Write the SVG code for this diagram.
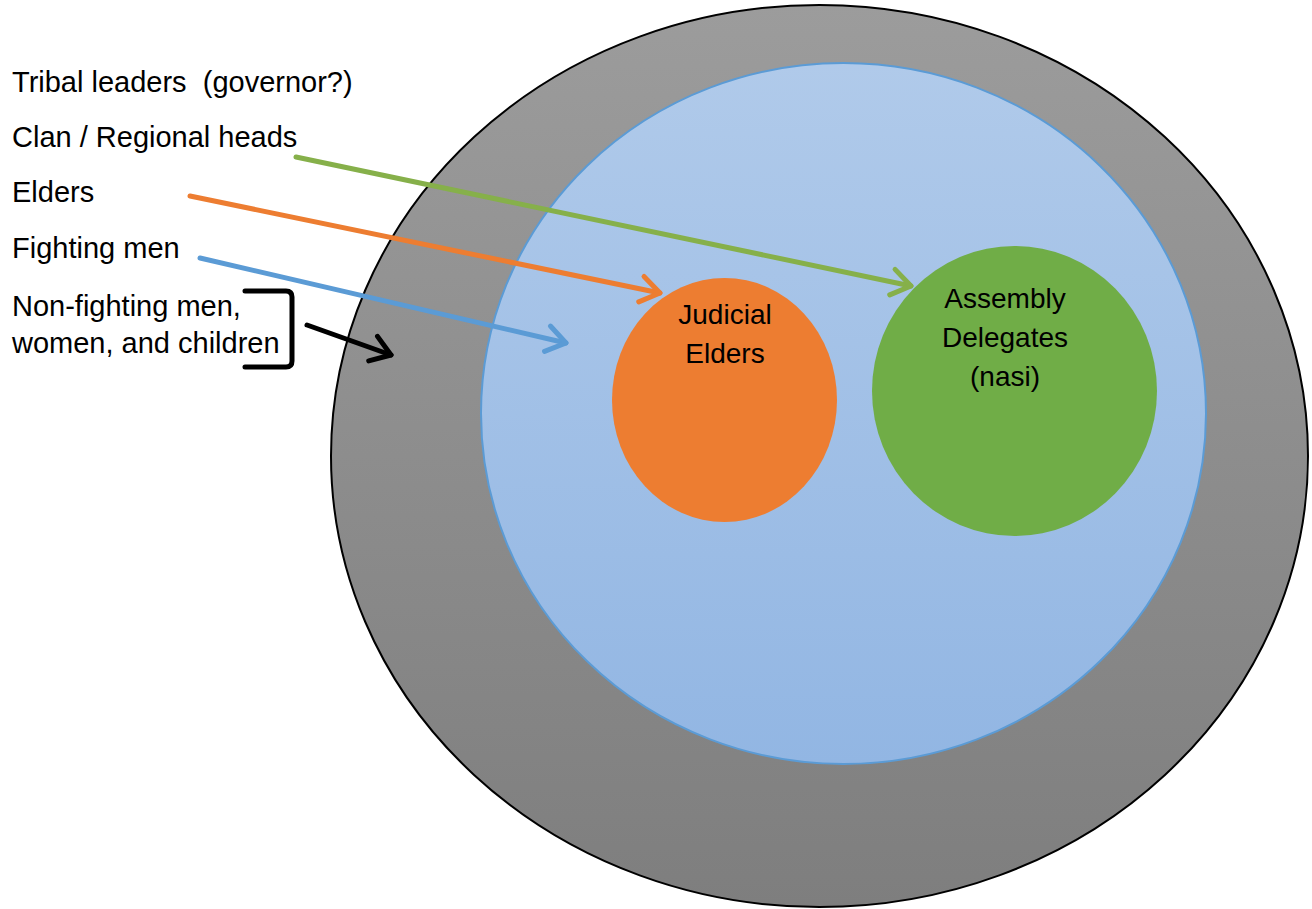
<svg xmlns="http://www.w3.org/2000/svg" width="1312" height="909" viewBox="0 0 1312 909">
<style>
.t{font-family:"Liberation Sans",Arial,sans-serif;font-size:29px;fill:#000}
.n{font-size:28px}
.c{text-anchor:middle}
.ln{fill:none;stroke-width:5;stroke-linecap:round}
</style>
<defs>
<linearGradient id="gOut" x1="0" y1="0" x2="0" y2="1"><stop offset="0" stop-color="#9c9c9c"/><stop offset="1" stop-color="#7e7e7e"/></linearGradient>
<linearGradient id="gIn" x1="0" y1="0" x2="0" y2="1"><stop offset="0" stop-color="#b0caea"/><stop offset="1" stop-color="#92b6e3"/></linearGradient>
<marker id="aG" markerUnits="userSpaceOnUse" orient="auto" markerWidth="40" markerHeight="40" refX="22" refY="20" viewBox="0 0 40 40"><path d="M3,7 L22,20 L3,33" fill="none" stroke="#86b04a" stroke-width="5" stroke-linecap="round" stroke-linejoin="round"/></marker>
<marker id="aO" markerUnits="userSpaceOnUse" orient="auto" markerWidth="40" markerHeight="40" refX="22" refY="20" viewBox="0 0 40 40"><path d="M3,7 L22,20 L3,33" fill="none" stroke="#ed7d31" stroke-width="5" stroke-linecap="round" stroke-linejoin="round"/></marker>
<marker id="aB" markerUnits="userSpaceOnUse" orient="auto" markerWidth="40" markerHeight="40" refX="22" refY="20" viewBox="0 0 40 40"><path d="M3,7 L22,20 L3,33" fill="none" stroke="#5b9bd5" stroke-width="5" stroke-linecap="round" stroke-linejoin="round"/></marker>
<marker id="aK" markerUnits="userSpaceOnUse" orient="auto" markerWidth="40" markerHeight="40" refX="22" refY="20" viewBox="0 0 40 40"><path d="M3,7 L22,20 L3,33" fill="none" stroke="#000" stroke-width="5" stroke-linecap="round" stroke-linejoin="round"/></marker>
</defs>
<rect width="1312" height="909" fill="#fff"/>
<g id="outer"><ellipse cx="819.5" cy="456" rx="488.5" ry="451" fill="url(#gOut)" stroke="#000" stroke-width="2"/></g>
<g id="inner"><ellipse cx="843.5" cy="413.5" rx="362.5" ry="350.5" fill="url(#gIn)" stroke="#5b9bd5" stroke-width="2"/></g>
<g id="judicial"><ellipse cx="724.5" cy="400" rx="112.5" ry="122" fill="#ed7d31"/>
<text class="t n c" x="725" y="324">Judicial</text><text class="t n c" x="725" y="363">Elders</text></g>
<g id="assembly"><ellipse cx="1014.5" cy="391" rx="142.5" ry="145" fill="#70ad47"/>
<text class="t n c" x="1005" y="308">Assembly</text><text class="t n c" x="1005" y="347">Delegates</text><text class="t n c" x="1005" y="386">(nasi)</text></g>
<g id="labels">
<text class="t" x="12" y="92" xml:space="preserve">Tribal leaders  (governor?)</text>
<text class="t" x="12" y="147">Clan / Regional heads</text>
<text class="t" x="12" y="202">Elders</text>
<text class="t" x="12" y="258">Fighting men</text>
<text class="t" x="12" y="316">Non-fighting men,</text>
<text class="t" x="12" y="353">women, and children</text>
</g>
<g id="connectors">
<path class="ln" stroke="#86b04a" d="M296,157 L911,286" marker-end="url(#aG)"/>
<path class="ln" stroke="#ed7d31" d="M190,196 L660,293" marker-end="url(#aO)"/>
<path class="ln" stroke="#5b9bd5" d="M200,258 L566,343" marker-end="url(#aB)"/>
<path class="ln" stroke="#000" d="M307,325 L391,355" marker-end="url(#aK)"/>
<path d="M245,291 L286,291 Q292,291 292,297 L292,361 Q292,367 286,367 L245,367" fill="none" stroke="#000" stroke-width="5" stroke-linecap="round"/>
</g>
</svg>
